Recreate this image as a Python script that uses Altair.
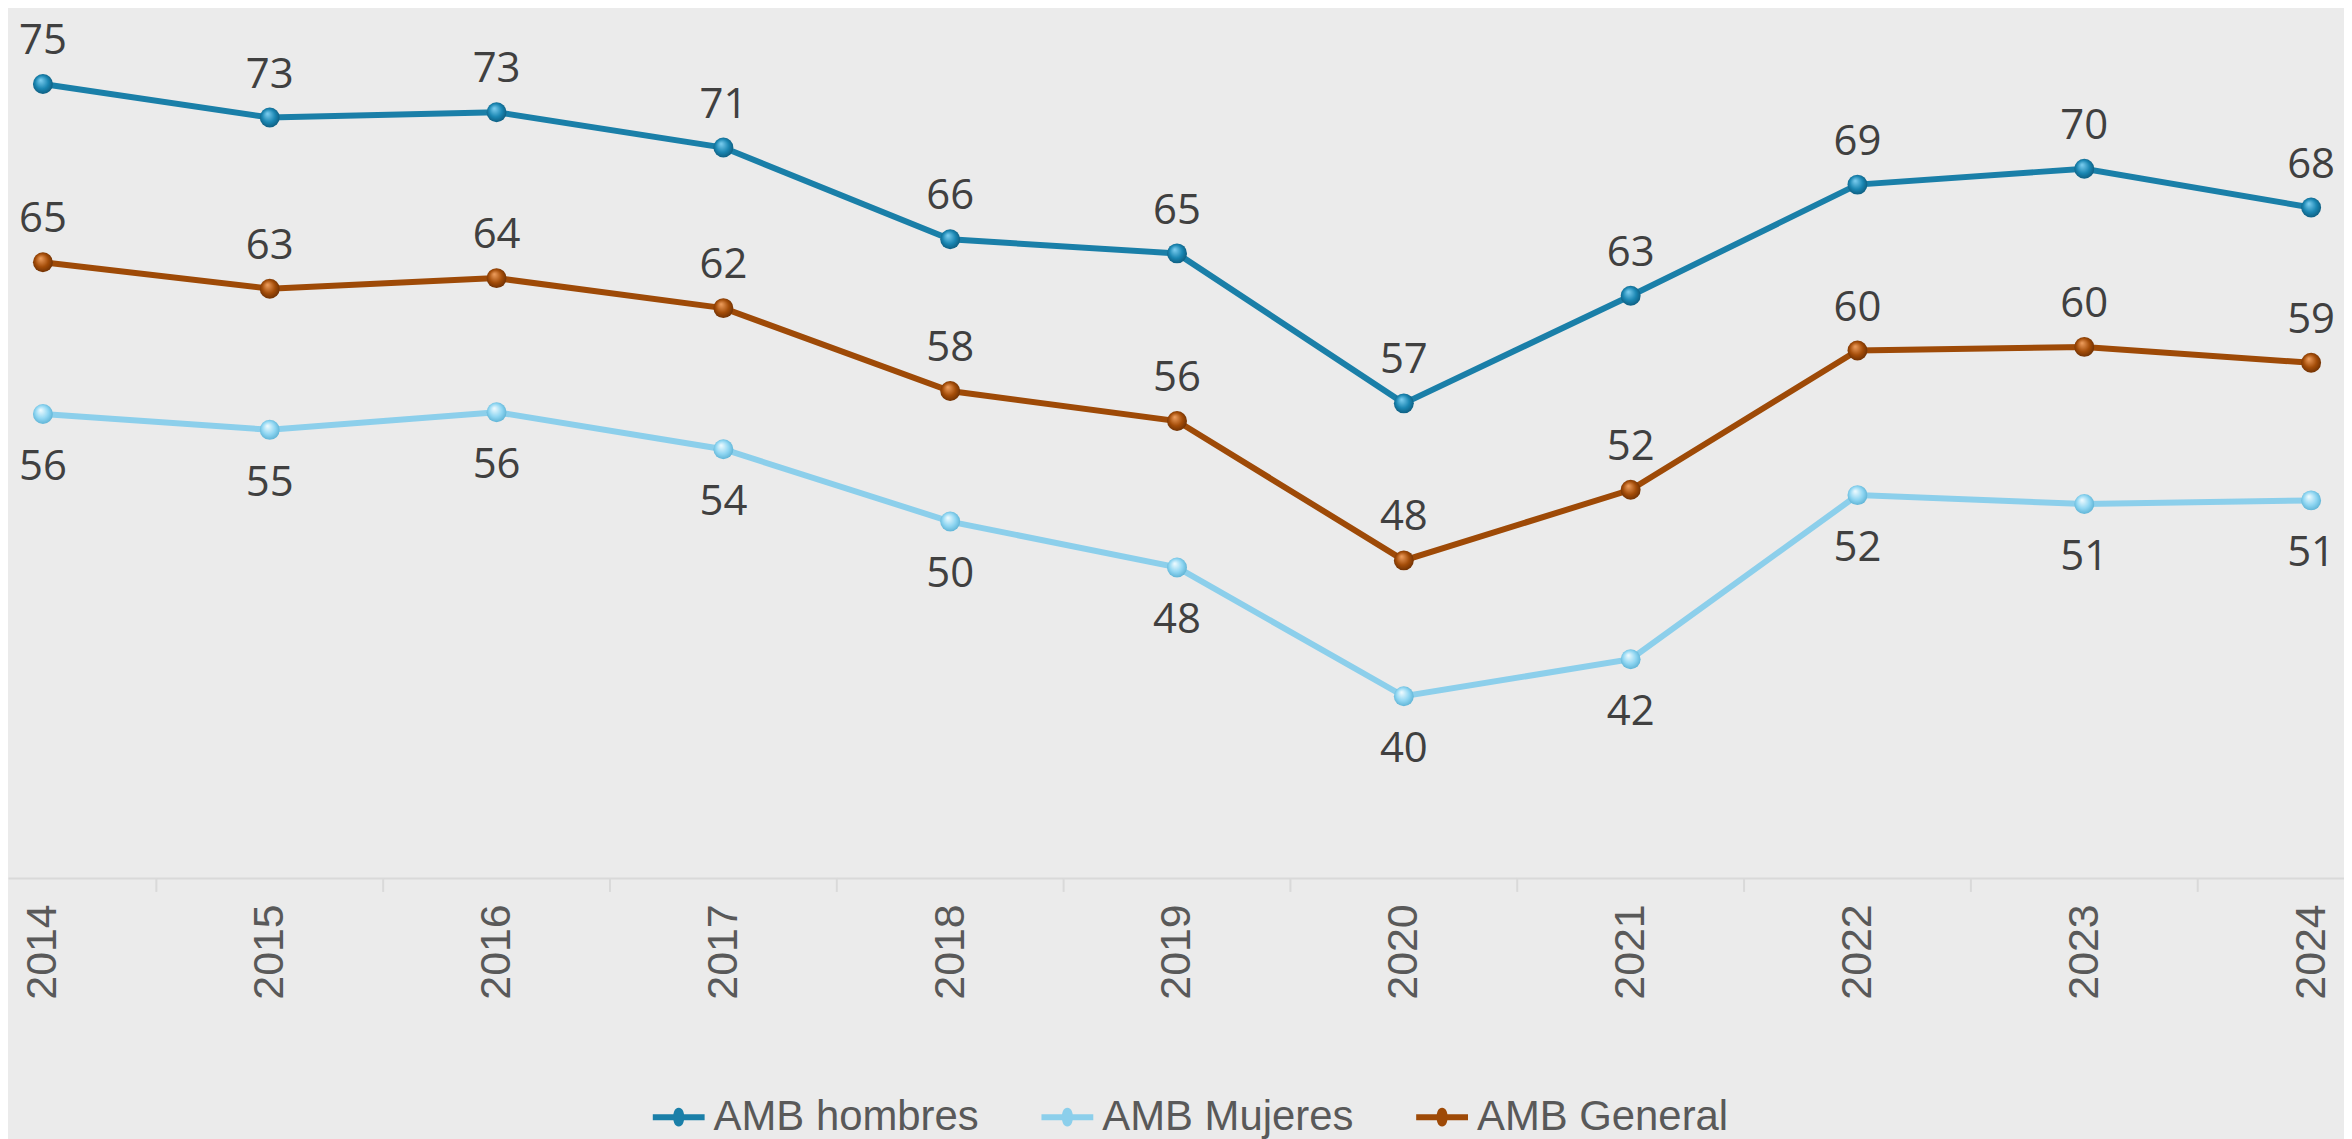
import altair as alt
import pandas as pd

years = [2014, 2015, 2016, 2017, 2018, 2019, 2020, 2021, 2022, 2023, 2024]
hombres = [75.0, 73.1, 73.4, 71.4, 66.2, 65.4, 56.9, 63.0, 69.3, 70.2, 68.0]
mujeres = [56.3, 55.4, 56.4, 54.3, 50.2, 47.6, 40.3, 42.4, 51.7, 51.2, 51.4]
general = [64.9, 63.4, 64.0, 62.3, 57.6, 55.9, 48.0, 52.0, 59.9, 60.1, 59.2]
series = ["AMB hombres", "AMB Mujeres", "AMB General"]
colors = ["#1a7fa8", "#8ccfeb", "#9e4a07"]

rows = []
for name, vals in zip(series, [hombres, mujeres, general]):
    for y, v in zip(years, vals):
        rows.append({"year": y, "serie": name, "v": v})
df = pd.DataFrame(rows)
mids = pd.DataFrame({"mid": [(a + b) / 2 for a, b in zip(years[:-1], years[1:])]})

W, H = 2344, 871
xscale = alt.Scale(domain=[2013.846, 2024.145], nice=False, zero=False)
yscale = alt.Scale(domain=[30, 79.2], nice=False, zero=False)
xaxis = alt.Axis(values=years, format="d", labelAngle=-90, labelFontSize=43,
                 labelFont="Liberation Sans", labelColor="#595959", labelPadding=26,
                 ticks=False, tickSize=0, grid=False, domainColor="#d9d9d9",
                 domainWidth=2, labelFlush=False, labelOverlap=False, title=None)

base = alt.Chart(df)

legend_path = "M-1,0H1M0.1,0A0.1,0.25 0 1,1 -0.1,0A0.1,0.25 0 1,1 0.1,0"

lines = base.mark_line(strokeWidth=6).encode(
    x=alt.X("year:Q", scale=xscale, axis=xaxis),
    y=alt.Y("v:Q", scale=yscale, axis=None),
    color=alt.Color("serie:N", sort=series,
                    scale=alt.Scale(domain=series, range=colors),
                    legend=alt.Legend(orient="none", legendX=644, legendY=1082,
                                      direction="horizontal", title=None,
                                      symbolType=legend_path, symbolSize=2704,
                                      symbolStrokeWidth=6, labelFontSize=42,
                                      labelFont="Liberation Sans",
                                      labelColor="#595959", labelOffset=6,
                                      columnPadding=50, labelLimit=0)),
)

grads = {
    "AMB hombres": ["#7fd0f2", "#1a86b2", "#0a5070"],
    "AMB Mujeres": ["#f2fcff", "#8fd6f2", "#4fa8cc"],
    "AMB General": ["#f0a060", "#a34c08", "#5e2802"],
}

point_layers = []
for name in series:
    c = grads[name]
    g = alt.RadialGradient(gradient="radial",
                           stops=[alt.GradientStop(color=c[0], offset=0),
                                  alt.GradientStop(color=c[1], offset=0.55),
                                  alt.GradientStop(color=c[2], offset=1)],
                           x1=0.38, y1=0.3, r1=0, x2=0.5, y2=0.5, r2=0.6)
    point_layers.append(
        base.transform_filter(alt.datum.serie == name)
        .mark_point(filled=True, size=400, opacity=1, color=g, stroke=None)
        .encode(x=alt.X("year:Q", scale=xscale, axis=xaxis),
                y=alt.Y("v:Q", scale=yscale, axis=None))
    )

labels_up = base.transform_filter(alt.datum.serie != "AMB Mujeres").mark_text(
    font="Open Sans", fontSize=42, color="#404040", baseline="alphabetic", dy=-30
).encode(x=alt.X("year:Q", scale=xscale, axis=xaxis),
         y=alt.Y("v:Q", scale=yscale, axis=None),
         text=alt.Text("v:Q", format=".0f"))

labels_down = base.transform_filter(alt.datum.serie == "AMB Mujeres").mark_text(
    font="Open Sans", fontSize=42, color="#404040", baseline="alphabetic", dy=66
).encode(x=alt.X("year:Q", scale=xscale, axis=xaxis),
         y=alt.Y("v:Q", scale=yscale, axis=None),
         text=alt.Text("v:Q", format=".0f"))

ticks = alt.Chart(mids).mark_rule(color="#d9d9d9", strokeWidth=2).encode(
    x=alt.X("mid:Q", scale=xscale, axis=xaxis),
    y=alt.value(H), y2=alt.value(H + 14),
)

chart = alt.layer(ticks, lines, *point_layers, labels_up, labels_down).properties(
    width=W, height=H,
    autosize=alt.AutoSizeParams(type="none"),
    padding={"left": 0, "top": 0, "right": 0, "bottom": 260},
    background="#ebebeb",
).configure_view(stroke=None)

chart.save("out.html", embed_options={"renderer": "svg", "actions": False})
